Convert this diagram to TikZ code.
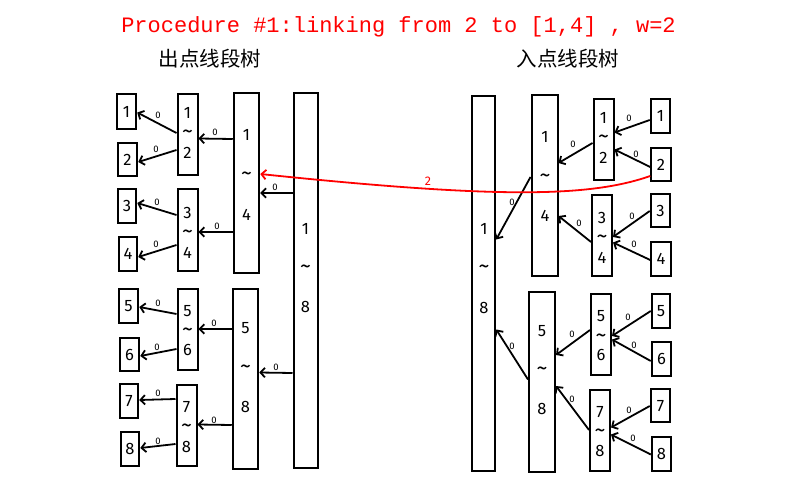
\documentclass[tikz,border=0pt]{standalone}
\usepackage{fontspec}
\usetikzlibrary{arrows.meta}
\newfontfamily\digfam{Fira Sans}
\newfontfamily\titlefam{Liberation Mono}
\newfontfamily\cjkfam{Noto Sans CJK SC}
\newcommand\digfont{\digfam\fontsize{16.5}{18}\selectfont}
\newcommand\labfont{\digfam\fontsize{9.5}{10}\selectfont}
\newcommand\tl{\scalebox{1.35}{\textasciitilde}}
\tikzset{
  box/.style={draw, line width=2pt, inner sep=0pt, font=\digfont, text height=11.6pt, text depth=0pt},
  dig/.style={inner sep=0pt, font=\digfont, text height=11.6pt, text depth=0pt},
  arr/.style={line width=1.8pt, -{Straight Barb[length=4.5pt,width=9.5pt]}},
  lab/.style={inner sep=0pt, font=\labfont},
}
\begin{document}
\begin{tikzpicture}[x=1pt,y=-1pt]
\useasboundingbox (0,0) rectangle (800,500);
% title
\node[red, font=\titlefam\fontsize{22}{24}\selectfont, anchor=base, inner sep=0pt] (title) at (398.5,32.3) {Procedure \#1:linking from 2 to [1,4] , w=2};
\node[font=\cjkfam\fontsize{20.5}{22}\selectfont, inner sep=0pt] (outlab) at (210,59) {出点线段树};
\node[font=\cjkfam\fontsize{20.5}{22}\selectfont, inner sep=0pt] (inlab) at (568,59) {入点线段树};

% ===== left tree =====
\node[box, minimum width=19.5pt, minimum height=35.5pt] (L1) at (126.5,111.5) {1};
\node[box, minimum width=19.5pt, minimum height=33.5pt] (L2) at (127.5,159.5) {2};
\node[box, minimum width=18.5pt, minimum height=34.5pt] (L3) at (127,206) {3};
\node[box, minimum width=18.5pt, minimum height=34.5pt] (L4) at (128,254) {4};
\node[box, minimum width=19.5pt, minimum height=34.5pt] (L5) at (128.5,306) {5};
\node[box, minimum width=19.5pt, minimum height=33.5pt] (L6) at (129.5,354.5) {6};
\node[box, minimum width=18.5pt, minimum height=34.5pt] (L7) at (129,401) {7};
\node[box, minimum width=18.5pt, minimum height=34.5pt] (L8) at (130,449) {8};

\node[box, minimum width=20pt, minimum height=81.5pt] (P12) at (187.5,134.5) {};
\node[dig] (P12a) at (187.5,113) {1};
\node[dig] (P12b) at (187.5,133) {\tl};
\node[dig] (P12c) at (187.5,153) {2};
\node[box, minimum width=20pt, minimum height=82.5pt] (P34) at (187.5,230) {};
\node[dig] (P34a) at (187.5,213) {3};
\node[dig] (P34b) at (187.5,233) {\tl};
\node[dig] (P34c) at (187.5,253) {4};
\node[box, minimum width=20pt, minimum height=81.5pt] (P56) at (187.5,329.5) {};
\node[dig] (P56a) at (187.5,311) {5};
\node[dig] (P56b) at (187.5,331) {\tl};
\node[dig] (P56c) at (187.5,350) {6};
\node[box, minimum width=20pt, minimum height=81.5pt] (P78) at (186.5,425.5) {};
\node[dig] (P78a) at (186.5,407) {7};
\node[dig] (P78b) at (186.5,427) {\tl};
\node[dig] (P78c) at (186.5,447) {8};

\node[box, minimum width=25.5pt, minimum height=180.5pt] (P14) at (246.5,183) {};
\node[dig] (P14a) at (246.5,135) {1};
\node[dig] (P14b) at (246.5,175) {\tl};
\node[dig] (P14c) at (246.5,215) {4};
\node[box, minimum width=25.5pt, minimum height=180.5pt] (P58) at (245.5,379) {};
\node[dig] (P58a) at (245.5,328) {5};
\node[dig] (P58b) at (245.5,368) {\tl};
\node[dig] (P58c) at (245.5,407) {8};
\node[box, minimum width=24pt, minimum height=375.5pt] (P18) at (305.5,280.5) {};
\node[dig] (P18a) at (305.5,229) {1};
\node[dig] (P18b) at (305.5,268) {\tl};
\node[dig] (P18c) at (305.5,307) {8};

\draw[arr] (P12.west |- 0,133) -- (L1.east |- 0,112.5);
\draw[arr] (P12.west |- 0,150) -- (L2.east |- 0,162);
\draw[arr] (P14.west |- 0,139) -- (P12.east |- 0,138.5);
\draw[arr] (P18.west |- 0,193) -- (P14.east |- 0,193);
\draw[arr] (P34.west |- 0,215) -- (L3.east |- 0,203);
\draw[arr] (P34.west |- 0,245) -- (L4.east |- 0,257);
\draw[arr] (P14.west |- 0,232) -- (P34.east |- 0,232);
\draw[arr] (P56.west |- 0,314) -- (L5.east |- 0,307);
\draw[arr] (P56.west |- 0,349) -- (L6.east |- 0,356);
\draw[arr] (P58.west |- 0,329) -- (P56.east |- 0,329);
\draw[arr] (P18.west |- 0,373) -- (P58.east |- 0,372.5);
\draw[arr] (P78.west |- 0,399) -- (L7.east |- 0,400);
\draw[arr] (P78.west |- 0,444) -- (L8.east |- 0,448);
\draw[arr] (P58.west |- 0,425) -- (P78.east |- 0,424.5);

\node[lab] (la1) at (158,115) {0};
\node[lab] (la2) at (156,149) {0};
\node[lab] (la3) at (215,132) {0};
\node[lab] (la4) at (275,187) {0};
\node[lab] (la5) at (157,202) {0};
\node[lab] (la6) at (156,244) {0};
\node[lab] (la7) at (217,226) {0};
\node[lab] (la8) at (158,303) {0};
\node[lab] (la9) at (157,347) {0};
\node[lab] (la10) at (214,323) {0};
\node[lab] (la11) at (276,367) {0};
\node[lab] (la12) at (158,393) {0};
\node[lab] (la13) at (158,441) {0};
\node[lab] (la14) at (214,420) {0};

% ===== right tree =====
\node[box, minimum width=23.5pt, minimum height=375.5pt] (R18) at (483.5,283.5) {};
\node[dig] (R18a) at (484,229) {1};
\node[dig] (R18b) at (484,268) {\tl};
\node[dig] (R18c) at (484,308) {8};
\node[box, minimum width=26pt, minimum height=181pt] (R14) at (544.5,185.5) {};
\node[dig] (R14a) at (545,137) {1};
\node[dig] (R14b) at (545,177) {\tl};
\node[dig] (R14c) at (545,216) {4};
\node[box, minimum width=26pt, minimum height=180pt] (R58) at (542,381.5) {};
\node[dig] (R58a) at (542,331) {5};
\node[dig] (R58b) at (542,370) {\tl};
\node[dig] (R58c) at (542,409) {8};

\node[box, minimum width=20pt, minimum height=81.5pt] (R12) at (603.5,139.5) {};
\node[dig] (R12a) at (603.5,118) {1};
\node[dig] (R12b) at (603.5,138) {\tl};
\node[dig] (R12c) at (603.5,158) {2};
\node[box, minimum width=20pt, minimum height=81pt] (R34) at (602,235.5) {};
\node[dig] (R34a) at (602,218) {3};
\node[dig] (R34b) at (602,238) {\tl};
\node[dig] (R34c) at (602,258) {4};
\node[box, minimum width=20pt, minimum height=81.5pt] (R56) at (601,334.5) {};
\node[dig] (R56a) at (601,316) {5};
\node[dig] (R56b) at (601,337) {\tl};
\node[dig] (R56c) at (601,355) {6};
\node[box, minimum width=20pt, minimum height=81.5pt] (R78) at (600,430.5) {};
\node[dig] (R78a) at (600,412) {7};
\node[dig] (R78b) at (600,432) {\tl};
\node[dig] (R78c) at (600,451) {8};

\node[box, minimum width=19.5pt, minimum height=34.5pt] (RL1) at (660.5,116) {1};
\node[box, minimum width=19.5pt, minimum height=33.5pt] (RL2) at (661,164.5) {2};
\node[box, minimum width=19.5pt, minimum height=33.5pt] (RL3) at (660.5,210.5) {3};
\node[box, minimum width=19.5pt, minimum height=34.5pt] (RL4) at (661,259) {4};
\node[box, minimum width=18.5pt, minimum height=34.5pt] (RL5) at (661,311) {5};
\node[box, minimum width=19.5pt, minimum height=34.5pt] (RL6) at (661.5,359) {6};
\node[box, minimum width=19.5pt, minimum height=33.5pt] (RL7) at (660.5,405.5) {7};
\node[box, minimum width=19.5pt, minimum height=34.5pt] (RL8) at (661.5,454) {8};

\draw[arr] (RL1.west |- 0,120) -- (R12.east |- 0,132.5);
\draw[arr] (RL2.west |- 0,167) -- (R12.east |- 0,149.5);
\draw[arr] (R12.west |- 0,143) -- (R14.east |- 0,163);
\draw[arr] (R14.west |- 0,177) -- (R18.east |- 0,239.5);
\draw[arr] (RL3.west |- 0,211) -- (R34.east |- 0,237);
\draw[arr] (RL4.west |- 0,260) -- (R34.east |- 0,242.5);
\draw[arr] (R34.west |- 0,242) -- (R14.east |- 0,216);
\draw[arr] (RL5.west |- 0,311) -- (R56.east |- 0,336);
\draw[arr] (RL6.west |- 0,361) -- (R56.east |- 0,339.5);
\draw[arr] (R56.west |- 0,330) -- (R58.east |- 0,355);
\draw[arr] (R58.west |- 0,379.5) -- (R18.east |- 0,329.5);
\draw[arr] (R78.west |- 0,430) -- (R58.east |- 0,386);
\draw[arr] (RL7.west |- 0,406) -- (R78.east |- 0,427.5);
\draw[arr] (RL8.west |- 0,454.5) -- (R78.east |- 0,434.5);

\node[lab] (lb1) at (629,118) {0};
\node[lab] (lb2) at (636,154) {0};
\node[lab] (lb3) at (573,144) {0};
\node[lab] (lb4) at (512,202) {0};
\node[lab] (lb5) at (632,216) {0};
\node[lab] (lb6) at (634,244) {0};
\node[lab] (lb7) at (579,223) {0};
\node[lab] (lb8) at (628,317) {0};
\node[lab] (lb9) at (634,345) {0};
\node[lab] (lb10) at (572,334) {0};
\node[lab] (lb11) at (512,346) {0};
\node[lab] (lb12) at (572,399) {0};
\node[lab] (lb13) at (629,410) {0};
\node[lab] (lb14) at (633,438) {0};

% ===== red link =====
\draw[red, line width=1.8pt, -{Straight Barb[length=4.5pt,width=9.5pt]}]
  (RL2.west |- 0,176) .. controls (590,197) and (500,199) .. (P14.east |- 0,174);
\node[red, inner sep=0pt, font=\digfam\fontsize{12.5}{13}\selectfont] (w) at (428,181.5) {2};
\end{tikzpicture}
\end{document}
